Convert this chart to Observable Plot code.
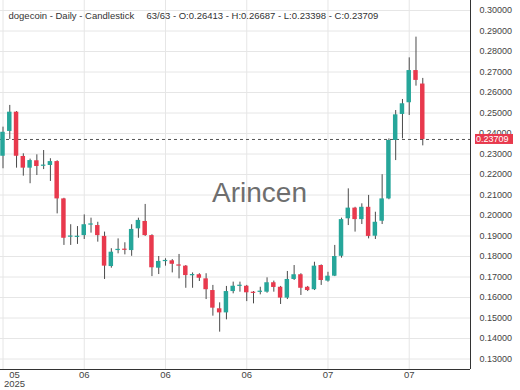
<!DOCTYPE html>
<html><head><meta charset="utf-8">
<script src="https://cdn.jsdelivr.net/npm/d3@7"></script>
<script src="https://cdn.jsdelivr.net/npm/@observablehq/plot@0.6"></script>
<style>body{margin:0;background:#fff}</style>
</head><body><div id="chart"></div>
<script>
const opens = [0.2289,0.2410,0.2504,0.2288,0.2231,0.2267,0.2240,0.2244,0.2263,0.2081,
0.1894,0.1893,0.1902,0.1953,0.1951,0.1898,0.1751,0.1829,0.1835,0.1829,
0.1935,0.1971,0.1902,0.1743,0.1775,0.1779,0.1758,0.1753,0.1706,0.1711,
0.1691,0.1634,0.1545,0.1525,0.1629,0.1654,0.1655,0.1623,0.1625,0.1626,
0.1672,0.1650,0.1597,0.1688,0.1711,0.1650,0.1638,0.1756,0.1680,0.1704,
0.1801,0.1984,0.2036,0.1980,0.2040,0.1899,0.1972,0.2081,0.2366,0.2493,
0.2550,0.2707,0.26413];
const highs = [0.2431,0.2537,0.2507,0.2301,0.2275,0.2296,0.2317,0.2277,0.2267,0.2084,
0.1955,0.1946,0.2003,0.1987,0.1967,0.1919,0.1838,0.1886,0.1867,0.1955,
0.1987,0.2054,0.1906,0.1800,0.1789,0.1785,0.1810,0.1756,0.1720,0.1716,
0.1716,0.1659,0.1574,0.1654,0.1675,0.1675,0.1659,0.1629,0.1650,0.1696,
0.1680,0.1654,0.1727,0.1756,0.1716,0.1654,0.1772,0.1759,0.1723,0.1854,
0.1987,0.2130,0.2040,0.2057,0.2098,0.2016,0.2199,0.2374,0.2512,0.2566,
0.2769,0.2870,0.26687];
const lows = [0.2228,0.2371,0.2231,0.2192,0.2155,0.2195,0.2224,0.2166,0.2008,0.1854,
0.1854,0.1859,0.1883,0.1914,0.1870,0.1688,0.1743,0.1813,0.1808,0.1801,
0.1889,0.1898,0.1702,0.1712,0.1753,0.1720,0.1691,0.1645,0.1645,0.1678,
0.1590,0.1509,0.1431,0.1491,0.1618,0.1626,0.1580,0.1569,0.1613,0.1621,
0.1626,0.1566,0.1590,0.1683,0.1610,0.1629,0.1634,0.1659,0.1675,0.1702,
0.1792,0.1951,0.1919,0.1956,0.1886,0.1883,0.1956,0.2077,0.2268,0.2374,
0.2488,0.2631,0.23398];
const closes = [0.2406,0.2504,0.2289,0.2231,0.2268,0.2239,0.2242,0.2263,0.2081,0.1889,
0.1896,0.1895,0.1955,0.1956,0.1902,0.1753,0.1821,0.1830,0.1830,0.1932,
0.1976,0.1902,0.1745,0.1776,0.1777,0.1762,0.1753,0.1707,0.1708,0.1694,
0.1638,0.1548,0.1525,0.1629,0.1655,0.1656,0.1623,0.1620,0.1627,0.1672,
0.1649,0.1597,0.1688,0.1711,0.1645,0.1634,0.1753,0.1683,0.1704,0.1800,
0.1980,0.2036,0.1980,0.2040,0.1898,0.1967,0.2081,0.2366,0.2491,0.2545,
0.2707,0.2659,0.23709];

const yTicks = [0.13,0.14,0.15,0.16,0.17,0.18,0.19,0.20,0.21,0.22,0.23,0.24,0.25,0.26,0.27,0.28,0.29,0.30];
const xTickIdx = [0,12,24,36,48,60];
const xTickLabels = ["05","06","06","06","07","07"];
const yearLabel = "2025";
const titleLeft = "dogecoin - Daily - Candlestick";
const watermark = "Arincen";

const GREEN = "#26a69a", RED = "#e8394d";
const FONT = "Liberation Sans, Arial, Helvetica, sans-serif";
const xDomain = [-0.37, 69.05];
const yDomain = [0.12488, 0.30488];
const minBody = 0.0006;

const data = opens.map((o, i) => ({i, open: o, high: highs[i], low: lows[i], close: closes[i]}));
const last = data[data.length - 1];
const titleRight = `${data.length}/${data.length} - O:${last.open.toFixed(5)} - H:${last.high.toFixed(5)} - L:${last.low.toFixed(5)} - C:${last.close.toFixed(5)}`;

const chart = Plot.plot({
  width: 520, height: 390,
  marginTop: 0, marginRight: 50, marginBottom: 21, marginLeft: 0,
  style: {fontFamily: FONT, background: "#fff", overflow: "visible"},
  x: {domain: xDomain, axis: null},
  y: {domain: yDomain, axis: null},
  marks: [
    Plot.gridY(yTicks, {stroke: "#e6e6e6", strokeOpacity: 1}),
    Plot.gridX(xTickIdx, {stroke: "#e6e6e6", strokeOpacity: 1}),
    Plot.text([watermark], {frameAnchor: "middle", dx: 24, dy: 8, fontSize: 28, fill: "#6e6e6e", fontFamily: FONT}),
    Plot.ruleY([last.close], {stroke: "#555", strokeDasharray: "3,3", strokeWidth: 1}),
    Plot.ruleX(data, {x: "i", y1: "low", y2: "high", stroke: "#4a4a4a", strokeWidth: 1}),
    Plot.rect(data, {
      x1: d => d.i - 0.33, x2: d => d.i + 0.33,
      y1: d => Math.min(d.open, d.close),
      y2: d => Math.max(d.open, d.close, Math.min(d.open, d.close) + minBody),
      fill: d => d.close >= d.open ? GREEN : RED
    }),
    Plot.ruleX([xDomain[1]], {stroke: "#333", strokeWidth: 1}),
    Plot.ruleY([yDomain[0]], {stroke: "#333", strokeWidth: 1}),
    Plot.text(yTicks.filter(t => Math.abs(t - 0.24) > 1e-9), {y: d => d, frameAnchor: "right", dx: 9, textAnchor: "start", text: d => d.toFixed(5), fontSize: 9, fill: "#444"}),
    Plot.text(xTickIdx.slice(1), {x: d => d, frameAnchor: "bottom", dy: 1.5, lineAnchor: "top", text: (d, i) => xTickLabels[i + 1], fontSize: 9.5, fill: "#444"}),
    Plot.text([xTickIdx[0]], {x: d => d, frameAnchor: "bottom", dx: 11.5, dy: 1.5, lineAnchor: "top", text: () => xTickLabels[0], fontSize: 9.5, fill: "#444"}),
    Plot.text([xTickIdx[0]], {x: d => d, frameAnchor: "bottom", dx: 11.5, dy: 11, lineAnchor: "top", text: () => yearLabel, fontSize: 9.5, fill: "#444"}),
    Plot.text([titleLeft], {frameAnchor: "top-left", dx: 8, dy: 12, textAnchor: "start", fontSize: 9.5, fill: "#333"}),
    Plot.text([titleRight], {frameAnchor: "top-left", dx: 146, dy: 12, textAnchor: "start", fontSize: 9.5, fill: "#333"})
  ]
});

// price label on the right axis (covers most of the 0.24000 tick label, as in the source)
const svg = d3.select(chart);
const py = chart.scale("y").apply(last.close);
const px = chart.scale("x").apply(xDomain[1]);
const y24 = chart.scale("y").apply(0.24);
const g = svg.append("g").attr("text-anchor", "start").attr("font-family", FONT);
g.append("text").attr("x", px + 9).attr("y", y24).attr("dy", "0.32em")
  .attr("font-size", 9).attr("fill", "#444").text((0.24).toFixed(5));
g.append("rect").attr("x", px + 5).attr("y", py - 5).attr("width", 38).attr("height", 10).attr("fill", RED);
g.append("text").attr("x", px + 6).attr("y", py).attr("dy", "0.34em")
  .attr("font-size", 9).attr("fill", "#fff").text(last.close.toFixed(5));

document.getElementById("chart").appendChild(chart);
</script>
</body></html>
